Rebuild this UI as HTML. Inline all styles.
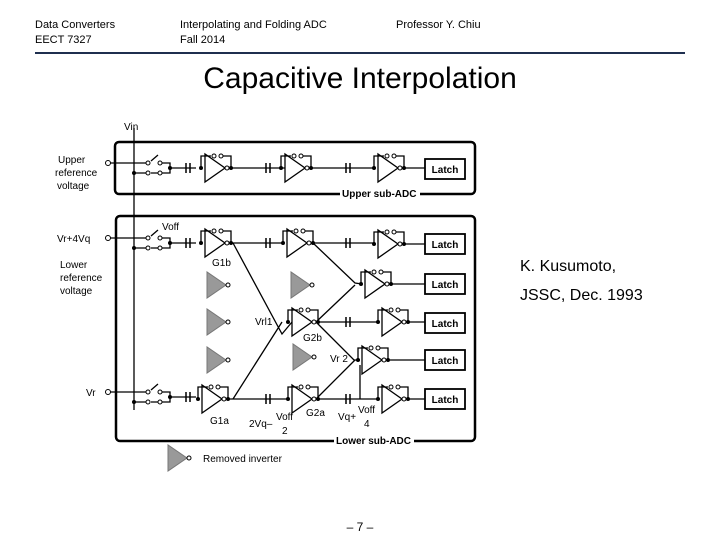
<!DOCTYPE html>
<html><head><meta charset="utf-8"><style>
body{margin:0;width:720px;height:540px;background:#fff;overflow:hidden;font-family:"Liberation Sans",sans-serif}
.t{position:absolute;font-size:11px;line-height:15px;color:#000}
</style></head><body>
<div class="t" style="left:35px;top:18px">Data Converters<br>EECT 7327</div>
<div class="t" style="left:180px;top:18px">Interpolating and Folding ADC<br>Fall 2014</div>
<div class="t" style="left:396px;top:18px">Professor Y. Chiu</div>
<div style="position:absolute;left:35px;top:52px;width:650px;height:2px;background:#1f2f4f"></div>
<div style="position:absolute;left:0;width:720px;top:62px;text-align:center;font-size:30px">Capacitive Interpolation</div>
<div style="position:absolute;left:520px;top:258px;font-size:16px">K. Kusumoto,</div>
<div style="position:absolute;left:520px;top:287px;font-size:16px">JSSC, Dec. 1993</div>
<div style="position:absolute;left:0;width:720px;top:520px;text-align:center;font-size:12px">– 7 –</div>
<svg width="720" height="540" style="position:absolute;left:0;top:0" font-family="Liberation Sans,sans-serif" font-size="10">
<defs>
<g id="inv"><polygon points="0,-14 0,14 20,0" fill="#fff" stroke="#000" stroke-width="1.3"/><circle cx="22" cy="0" r="2" fill="#fff" stroke="#000"/><path d="M-4,0 V-12 H6 M18,-12 H26 V0" fill="none" stroke="#000" stroke-width="1.3"/><circle cx="9" cy="-12" r="2" fill="#fff" stroke="#000"/><circle cx="16" cy="-12" r="2" fill="#fff" stroke="#000"/><circle cx="-4" cy="0" r="2"/><circle cx="26" cy="0" r="2"/></g>
<g id="gr"><polygon points="0,-13 0,13 19,0" fill="#999" stroke="#777"/><circle cx="21" cy="0" r="2" fill="#fff" stroke="#000"/></g>
<g id="cap"><path d="M-2,-5 V5 M2,-5 V5" stroke="#000" stroke-width="1.5"/></g>
<g id="latch"><rect x="0" y="-10" width="40" height="20" fill="#fff" stroke="#000" stroke-width="1.8"/><text x="20" y="4" text-anchor="middle" font-weight="bold">Latch</text></g>
<g id="sw"><path d="M134,0 H146 M151,-2 L158,-8 M134,10 H146 M151,10 H158 M162,0 H170 V10 H162 M170,5 H196" stroke="#000" stroke-width="1.3" fill="none"/><circle cx="148" cy="0" r="2" fill="#fff" stroke="#000"/><circle cx="160" cy="0" r="2" fill="#fff" stroke="#000"/><circle cx="148" cy="10" r="2" fill="#fff" stroke="#000"/><circle cx="160" cy="10" r="2" fill="#fff" stroke="#000"/><circle cx="134" cy="10" r="2"/><circle cx="170" cy="5" r="2"/></g>
</defs>
<g stroke="#000" stroke-width="1.3" fill="none">
<rect x="115" y="142" width="360" height="52" rx="4" stroke-width="2.5"/>
<rect x="116" y="216" width="359" height="225" rx="4" stroke-width="2.5"/>
<path d="M134,128 V410"/>
<path d="M108,163 H134 M108,238 H134 M108,392 H134"/>
<path d="M229,168 H285 M311,168 H375 M404,168 H425"/>
<path d="M231,243 H283 M311,243 H375 M404,244 H425"/>
<path d="M229,399 H288 M316,399 H378 M404,399 H425"/>
<path d="M390,284 H425 M405,322 H425 M390,360 H425"/>
<path d="M233,243 L282,334 L292,322 M233,399 L282,322 M313,243 L355,283 L362,284 M316,322 L355,285 M316,322 L354,360 L360,360 M316,399 L355,360 M316,322 H378 M360,365 V399"/>
</g>
<use href="#sw" y="163"/><use href="#sw" y="238"/><use href="#sw" y="392"/>
<use href="#inv" x="205" y="168"/><use href="#inv" x="285" y="168"/><use href="#inv" x="378" y="168"/>
<use href="#inv" x="205" y="243"/><use href="#inv" x="287" y="243"/><use href="#inv" x="378" y="244"/>
<use href="#inv" x="365" y="284"/><use href="#inv" x="292" y="322"/><use href="#inv" x="382" y="322"/>
<use href="#inv" x="362" y="360"/><use href="#inv" x="202" y="399"/><use href="#inv" x="292" y="399"/><use href="#inv" x="382" y="399"/>
<use href="#gr" x="207" y="285"/><use href="#gr" x="207" y="322"/><use href="#gr" x="207" y="360"/><use href="#gr" x="291" y="285"/><use href="#gr" x="293" y="357"/><use href="#gr" x="168" y="458"/>
<use href="#cap" x="188" y="168"/><use href="#cap" x="268" y="168"/><use href="#cap" x="348" y="168"/>
<use href="#cap" x="188" y="243"/><use href="#cap" x="268" y="243"/><use href="#cap" x="348" y="243"/><use href="#cap" x="188" y="397"/><use href="#cap" x="268" y="399"/><use href="#cap" x="348" y="399"/><use href="#cap" x="348" y="322"/>
<use href="#latch" x="425" y="169"/><use href="#latch" x="425" y="244"/><use href="#latch" x="425" y="284"/><use href="#latch" x="425" y="323"/><use href="#latch" x="425" y="360"/><use href="#latch" x="425" y="399"/>
<g fill="#fff" stroke="#000"><circle cx="108" cy="163" r="2.5"/><circle cx="108" cy="238" r="2.5"/><circle cx="108" cy="392" r="2.5"/></g>
<text x="124" y="130">Vin</text>
<text x="58" y="163">Upper</text><text x="55" y="176">reference</text><text x="57" y="189">voltage</text>
<text x="57" y="242">Vr+4Vq</text><text x="60" y="268">Lower</text><text x="60" y="281">reference</text><text x="60" y="294">voltage</text>
<text x="86" y="396">Vr</text><text x="162" y="230">Voff</text><text x="212" y="266">G1b</text>
<text x="255" y="325">Vrl1</text><text x="303" y="341">G2b</text><text x="330" y="362">Vr 2</text>
<text x="210" y="424">G1a</text><text x="306" y="416">G2a</text><text x="249" y="427">2Vq–</text><text x="276" y="420">Voff</text><text x="282" y="434">2</text>
<text x="338" y="420">Vq+</text><text x="358" y="413">Voff</text><text x="364" y="427">4</text>
<rect x="340" y="188" width="80" height="12" fill="#fff"/><rect x="334" y="436" width="80" height="12" fill="#fff"/>
<text x="342" y="197" font-weight="bold">Upper sub-ADC</text><text x="336" y="444" font-weight="bold">Lower sub-ADC</text>
<text x="203" y="462">Removed inverter</text>
</svg>
</body></html>
